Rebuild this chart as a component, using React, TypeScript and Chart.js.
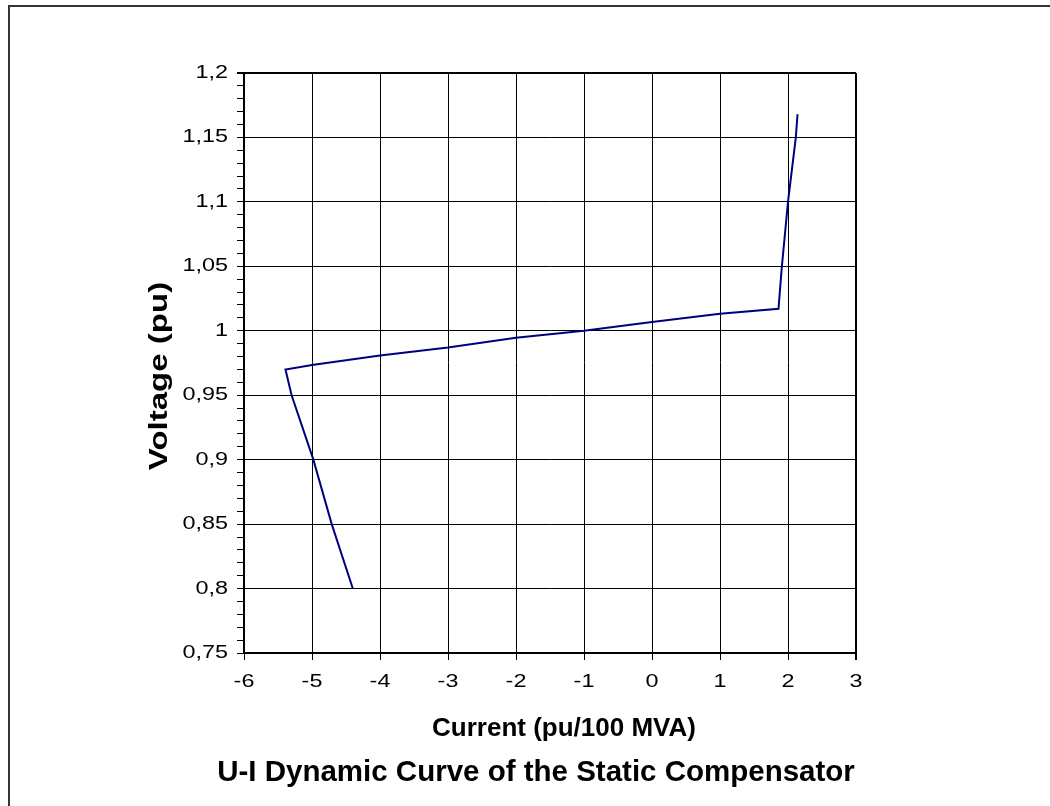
import React, { useEffect, useRef } from "react";
import { Chart, registerables } from "chart.js";

Chart.register(...registerables);

const currentValues = [-4.4, -4.71, -4.98, -5.3, -5.39, -5.0, -4.0, -3.0, -2.0, -1.0, 0.0, 1.0, 1.86, 1.91, 2.0, 2.115, 2.14];
const voltageValues = [0.8, 0.85, 0.9, 0.95, 0.97, 0.9734, 0.9809, 0.9871, 0.9946, 1.0, 1.0068, 1.0132, 1.017, 1.05, 1.1, 1.15, 1.168];

const xTickValues = [-6, -5, -4, -3, -2, -1, 0, 1, 2, 3];
const yMajorTickValues = [0.75, 0.8, 0.85, 0.9, 0.95, 1.0, 1.05, 1.1, 1.15, 1.2];
const yMinorStep = 0.01;

const chartTitle = "U-I Dynamic Curve of the Static Compensator";
const xAxisTitle = "Current (pu/100 MVA)";
const yAxisTitle = "Voltage (pu)";

const FONT = "'Liberation Sans', Arial, Helvetica, sans-serif";
const TEXT_STRETCH = 1.3;

function isMajorY(v: number) {
  return yMajorTickValues.some((m) => Math.abs(m - v) < 1e-6);
}

function fmt(v: number) {
  const r = Math.round(v * 100) / 100;
  return String(r).replace(".", ",");
}

// Excel-style wide text: stretch tick labels along their baseline
const wideTextPlugin = {
  id: "wideText",
  beforeDraw(chart: any) {
    const ctx = chart.ctx;
    const orig = CanvasRenderingContext2D.prototype.fillText;
    ctx.fillText = function (text: string, x: number, y: number) {
      this.save();
      this.translate(x, y);
      this.scale(TEXT_STRETCH, 1);
      orig.call(this, text, 0, 0);
      this.restore();
    };
  },
  afterDraw(chart: any) {
    const ctx = chart.ctx;
    delete ctx.fillText;
    const a = chart.chartArea;
    const cx = (a.left + a.right) / 2;
    ctx.save();
    ctx.fillStyle = "#000";
    ctx.textAlign = "center";
    ctx.textBaseline = "middle";
    ctx.font = `bold 26px ${FONT}`;
    ctx.fillText(xAxisTitle, cx + 14, a.bottom + 76);
    ctx.font = `bold 29.5px ${FONT}`;
    ctx.fillText(chartTitle, cx - 14, a.bottom + 120);
    ctx.translate(a.left - 84, (a.top + a.bottom) / 2 + 13);
    ctx.rotate(-Math.PI / 2);
    ctx.scale(1.27, 1);
    ctx.font = `bold 26px ${FONT}`;
    ctx.fillText(yAxisTitle, 0, 0);
    ctx.restore();
  },
};

export default function App() {
  const ref = useRef<HTMLCanvasElement | null>(null);

  useEffect(() => {
    if (!ref.current) return;
    const yAll: number[] = [];
    const yMin = yMajorTickValues[0];
    const yMax = yMajorTickValues[yMajorTickValues.length - 1];
    const n = Math.round((yMax - yMin) / yMinorStep);
    for (let i = 0; i <= n; i++) yAll.push(Math.round((yMin + i * yMinorStep) * 1000) / 1000);

    const chart = new Chart(ref.current, {
      type: "scatter",
      plugins: [wideTextPlugin],
      data: {
        datasets: [
          {
            data: currentValues.map((x, i) => ({ x, y: voltageValues[i] })),
            showLine: true,
            borderColor: "#000080",
            borderWidth: 2,
            pointRadius: 0,
            tension: 0,
            fill: false,
          },
        ],
      },
      options: {
        animation: false,
        responsive: false,
        devicePixelRatio: 1,
        layout: { padding: { left: 120, top: 73, right: 194, bottom: 53 } },
        plugins: {
          legend: { display: false },
          tooltip: { enabled: false },
          title: { display: false },
        },
        scales: {
          x: {
            type: "linear",
            min: -6,
            max: 3,
            afterBuildTicks: (scale: any) => {
              scale.ticks = xTickValues.map((v) => ({ value: v }));
            },
            afterFit: (scale: any) => {
              scale.height = 100;
            },
            ticks: {
              autoSkip: false,
              maxRotation: 0,
              color: "#000",
              padding: 11,
              font: { family: FONT, size: 18 },
              callback: (v: any) => String(v),
            },
            grid: {
              color: "#000",
              lineWidth: (c: any) => (c.tick && c.tick.value === 3 ? 2 : 1),
              tickColor: "#000",
              tickLength: 7,
            },
            border: { color: "#000", width: 2 },
            title: { display: false, text: xAxisTitle },
          },
          y: {
            type: "linear",
            min: 0.75,
            max: 1.2,
            afterBuildTicks: (scale: any) => {
              scale.ticks = yAll.map((v) => ({ value: v }));
            },
            afterFit: (scale: any) => {
              scale.width = 124;
            },
            ticks: {
              autoSkip: false,
              color: "#000",
              padding: 9,
              font: { family: FONT, size: 18 },
              callback: (v: any) => (isMajorY(Number(v)) ? fmt(Number(v)) : ""),
            },
            grid: {
              color: (c: any) => (c.tick && isMajorY(c.tick.value) ? "#000" : "rgba(0,0,0,0)"),
              lineWidth: (c: any) => (c.tick && Math.abs(c.tick.value - 1.2) < 1e-6 ? 2 : 1),
              tickColor: "#000",
              tickLength: 7,
            },
            border: { color: "#000", width: 2 },
            title: { display: false, text: yAxisTitle },
          },
        },
      },
    });
    return () => chart.destroy();
  }, []);

  return (
    <>
      <div
        style={{
          position: "fixed",
          left: 8,
          top: 5,
          right: -20,
          bottom: -20,
          border: "2px solid #333",
          background: "#fff",
        }}
      />
      <canvas
        ref={ref}
        width={1050}
        height={806}
        style={{ position: "fixed", left: 0, top: 0, width: 1050, height: 806 }}
      />
    </>
  );
}
